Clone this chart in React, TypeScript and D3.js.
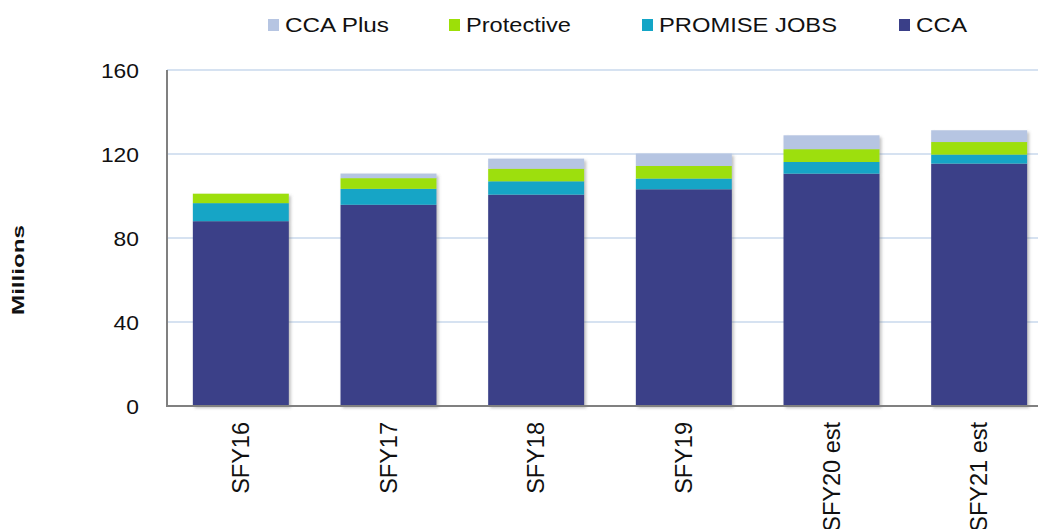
import React from "react";
import * as d3 from "d3";

// values (millions)
const categories = ["SFY16", "SFY17", "SFY18", "SFY19", "SFY20 est", "SFY21 est"];
const cca = [88.0, 95.8, 100.6, 103.2, 110.6, 115.4];
const promiseJobs = [8.6, 7.6, 6.4, 5.1, 5.6, 4.3];
const protective = [4.5, 5.1, 6.0, 6.0, 6.1, 6.0];
const ccaPlus = [0, 2.2, 4.8, 5.9, 6.6, 5.6];
const yTicks = [0, 40, 80, 120, 160];

const seriesKeys = ["CCA", "PROMISE JOBS", "Protective", "CCA Plus"];
const colors: Record<string, string> = {
  "CCA": "#3a3f88",
  "PROMISE JOBS": "#13a5c6",
  "Protective": "#9ddf08",
  "CCA Plus": "#b6c5e2",
};
// legend goes top series first
const legendItems = [
  { key: "CCA Plus", x: 268, len: 104 },
  { key: "Protective", x: 449, len: 105 },
  { key: "PROMISE JOBS", x: 642, len: 178 },
  { key: "CCA", x: 899, len: 51 },
];

const W = 1038;
const H = 529;
const left = 167;
const top = 70;
const bottom = 406;

export default function App() {
  const table = categories.map((c, i) => ({
    cat: c,
    "CCA": cca[i],
    "PROMISE JOBS": promiseJobs[i],
    "Protective": protective[i],
    "CCA Plus": ccaPlus[i],
  }));
  const layers = d3.stack<any>().keys(seriesKeys)(table);

  const x = d3
    .scaleBand()
    .domain(categories)
    .range([left, 1053])
    .paddingInner(0.35)
    .paddingOuter(0.175);
  const y = d3.scaleLinear().domain([0, 160]).range([bottom, top]);

  return (
    <svg
      width={W}
      height={H}
      style={{ position: "absolute", left: 0, top: 0, background: "#fff" }}
      fontFamily="'Liberation Sans', Arial, sans-serif"
    >
      <defs>
        <filter id="shadow" x="-10%" y="-10%" width="130%" height="130%">
          <feDropShadow dx="2" dy="2" stdDeviation="1.5" floodColor="#777" floodOpacity="0.45" />
        </filter>
      </defs>

      {/* grid */}
      {yTicks.filter((t) => t > 0).map((t) => (
        <line key={t} x1={left} x2={W} y1={y(t)} y2={y(t)} stroke="#c9d8ec" strokeWidth={1.5} />
      ))}

      {/* bars */}
      {categories.map((c, i) => (
        <g key={c} filter="url(#shadow)">
          {layers.map((layer) => {
            const d = layer[i];
            const h = y(d[0]) - y(d[1]);
            if (h <= 0) return null;
            return (
              <rect
                key={layer.key}
                x={x(c)}
                y={y(d[1])}
                width={x.bandwidth()}
                height={h}
                fill={colors[layer.key]}
              />
            );
          })}
        </g>
      ))}

      {/* axes */}
      <line x1={left} x2={left} y1={top} y2={bottom} stroke="#808080" strokeWidth={2} />
      <line x1={left - 1} x2={W} y1={bottom} y2={bottom} stroke="#808080" strokeWidth={2} />

      {/* y tick labels */}
      {yTicks.map((t) => (
        <text
          key={t}
          x={139}
          y={y(t)}
          textAnchor="end"
          dominantBaseline="central"
          fontSize={21}
          textLength={String(t).length * 12.7}
          lengthAdjust="spacingAndGlyphs"
          fill="#111"
        >
          {t}
        </text>
      ))}

      {/* x labels */}
      {categories.map((c) => (
        <text
          key={c}
          transform={`translate(${(x(c) as number) + x.bandwidth() / 2},422) rotate(-90)`}
          textAnchor="end"
          dominantBaseline="central"
          fontSize={23.5}
          fill="#111"
        >
          {c}
        </text>
      ))}

      {/* y title */}
      <text
        transform="translate(18,270) rotate(-90)"
        textAnchor="middle"
        dominantBaseline="central"
        fontSize={17}
        fontWeight="bold"
        textLength={90}
        lengthAdjust="spacingAndGlyphs"
        fill="#111"
      >
        Millions
      </text>

      {/* legend */}
      {legendItems.map((it) => (
        <g key={it.key}>
          <rect x={it.x} y={19} width={11} height={12} fill={colors[it.key]} />
          <text
            x={it.x + 17}
            y={25}
            dominantBaseline="central"
            fontSize={20}
            textLength={it.len}
            lengthAdjust="spacingAndGlyphs"
            fill="#111"
          >
            {it.key}
          </text>
        </g>
      ))}
    </svg>
  );
}
